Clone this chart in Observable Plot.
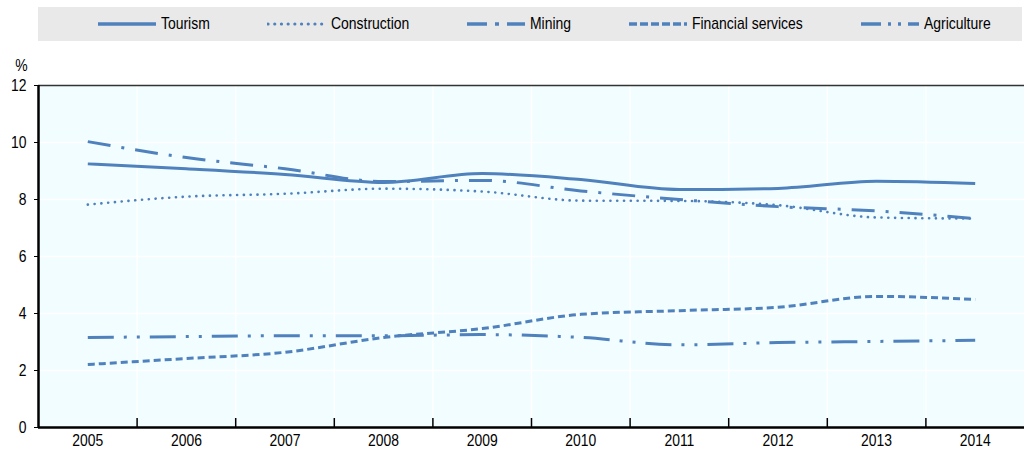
<!DOCTYPE html>
<html><head><meta charset="utf-8">
<script src="https://cdn.jsdelivr.net/npm/d3@7"></script>
<script src="https://cdn.jsdelivr.net/npm/@observablehq/plot@0.6"></script>
<style>
html,body{margin:0;padding:0;background:#fff;}
body{width:1024px;height:453px;overflow:hidden;font-family:"Liberation Sans Narrow","Arial Narrow","Liberation Sans",Arial,sans-serif;}
#legend{box-sizing:border-box;margin:7px 2px 0 38px;height:34px;background:#E9E9E9;display:flex;align-items:center;padding-left:59px;gap:57px;font-size:17px;color:#000;}
#legend .item{display:flex;align-items:center;gap:4px;white-space:nowrap;}
#legend .item span{display:inline-block;transform:scaleX(0.82);transform-origin:0 50%;}
#legend svg{display:block;}
#chart{margin-top:9px;}
#chart svg{display:block;font-family:"Liberation Sans Narrow","Arial Narrow","Liberation Sans",Arial,sans-serif;}
</style>
</head><body>
<div id="legend"></div>
<div id="chart"></div>
<script>
const years = [2005, 2006, 2007, 2008, 2009, 2010, 2011, 2012, 2013, 2014];
const tourism      = [9.25, 9.08, 8.88, 8.60, 8.91, 8.70, 8.35, 8.39, 8.64, 8.56];
const construction = [7.82, 8.10, 8.20, 8.38, 8.28, 7.96, 7.95, 7.80, 7.37, 7.33];
const mining       = [10.03, 9.47, 9.08, 8.63, 8.67, 8.30, 8.00, 7.75, 7.60, 7.33];
const financial    = [2.21, 2.42, 2.64, 3.16, 3.47, 3.97, 4.10, 4.22, 4.60, 4.49];
const agriculture  = [3.16, 3.19, 3.22, 3.22, 3.26, 3.16, 2.90, 2.98, 3.02, 3.06];
const seriesNames  = ["Tourism", "Construction", "Mining", "Financial services", "Agriculture"];
const yTicks = [0, 2, 4, 6, 8, 10, 12];

const color = "#4F81BD";
const narrow = 0.82;
const styles = {
  "Tourism":            {dash: null, legendDash: null, width: 3, cap: "butt"},
  "Construction":       {dash: "0.1,6.7", legendDash: "0.1,6.6", width: 2.6, cap: "round"},
  "Mining":             {dash: "23,11,3,11", legendDash: "20,8,4,8", width: 3, cap: "butt"},
  "Financial services": {dash: "7,4", legendDash: "8,3", width: 3, cap: "butt"},
  "Agriculture":        {dash: "26,10,3,10,3,10", legendDash: "20,7,3,7,3,7", width: 3, cap: "butt"}
};
const valuesBySeries = [tourism, construction, mining, financial, agriculture];
const data = seriesNames.flatMap((name, k) =>
  years.map((year, i) => ({series: name, year, value: valuesBySeries[k][i]})));

// legend
const legend = document.getElementById("legend");
const ns = "http://www.w3.org/2000/svg";
for (const name of seriesNames) {
  const s = styles[name];
  const item = document.createElement("div");
  item.className = "item";
  const sv = document.createElementNS(ns, "svg");
  sv.setAttribute("width", 60); sv.setAttribute("height", 10);
  const ln = document.createElementNS(ns, "line");
  ln.setAttribute("x1", 1); ln.setAttribute("x2", 59);
  ln.setAttribute("y1", 5); ln.setAttribute("y2", 5);
  ln.setAttribute("stroke", color);
  ln.setAttribute("stroke-width", s.width + 0.5);
  ln.setAttribute("stroke-linecap", s.cap);
  if (s.legendDash) ln.setAttribute("stroke-dasharray", s.legendDash);
  sv.appendChild(ln);
  const t = document.createElement("span");
  t.textContent = name;
  item.appendChild(sv); item.appendChild(t);
  legend.appendChild(item);
  const w = t.getBoundingClientRect().width / narrow;
  t.style.marginRight = (-(1 - narrow) * w) + "px";
}

const bounds = years.slice(0, -1).map(y => y + 0.5);
const xDomain = [years[0] - 0.5, years[years.length - 1] + 0.5];

const lineMarks = seriesNames.map(name => Plot.line(data.filter(d => d.series === name), {
  x: "year", y: "value", stroke: color,
  strokeWidth: styles[name].width,
  strokeDasharray: styles[name].dash,
  strokeLinecap: styles[name].cap,
  curve: "monotone-x"
}));

const chart = Plot.plot({
  width: 1024, height: 403,
  marginTop: 35, marginBottom: 26, marginLeft: 38, marginRight: 0,
  style: {fontSize: "17px", background: "transparent"},
  x: {domain: xDomain},
  y: {domain: [0, 12]},
  marks: [
    Plot.frame({fill: "#F2FDFF", stroke: null}),
    Plot.ruleY(yTicks.slice(1, -1), {stroke: "#fff", strokeWidth: 1.5}),
    Plot.ruleX(bounds, {stroke: "#fff", strokeWidth: 1.5}),
    Plot.ruleY([12], {stroke: "#333", strokeWidth: 1.5}),
    ...lineMarks,
    Plot.ruleY([0], {stroke: "#000", strokeWidth: 2.5}),
    Plot.ruleX([xDomain[0]], {stroke: "#000", strokeWidth: 2.5}),
    Plot.axisY({ticks: yTicks, tickSize: 4, tickPadding: 8, fontSize: 17, label: null, stroke: "#000"}),
    Plot.axisX({ticks: years, tickFormat: d => String(d), tickSize: 0, tickPadding: 6, fontSize: 17, label: null}),
    Plot.axisX({ticks: bounds, tickFormat: () => "", tickSize: -9, label: null, stroke: "#000", strokeWidth: 1.5}),
    Plot.text(["%"], {frameAnchor: "top-left", textAnchor: "middle", lineAnchor: "middle", dx: -17, dy: -20, fontSize: 17, fill: "#000"})
  ]
});
// condense text horizontally to mimic a narrow typeface
chart.querySelectorAll("text").forEach(t => {
  const X = +(t.getAttribute("x") || 0);
  const T = t.getAttribute("transform") || "";
  t.setAttribute("transform", `${T} translate(${X},0) scale(${narrow},1) translate(${-X},0)`);
});
document.getElementById("chart").appendChild(chart);
</script>
</body></html>
